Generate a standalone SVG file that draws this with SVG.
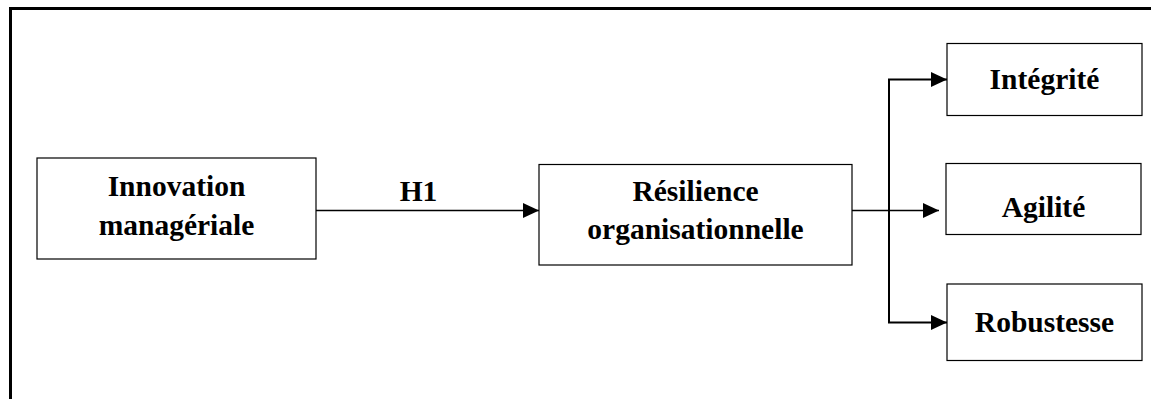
<svg xmlns="http://www.w3.org/2000/svg" width="1151" height="399" viewBox="0 0 1151 399">
<style>
.box{fill:#fff;stroke:#000;stroke-width:1.2}
.t{font-family:"Liberation Serif","Times New Roman",serif;font-weight:bold;font-size:29.5px;fill:#000;text-anchor:middle}
.c{fill:none;stroke:#000;stroke-width:1.3}
.c2{fill:none;stroke:#000;stroke-width:2}
</style>
<defs>
<marker id="ah" markerUnits="userSpaceOnUse" markerWidth="16" markerHeight="16" refX="16" refY="7.5" orient="auto">
<path d="M0,0 L16,7.5 L0,15 Z" fill="#000"/>
</marker>
</defs>
<rect width="1151" height="399" fill="#fff"/>
<path d="M10.5,399 V8.5 H1151" fill="none" stroke="#000" stroke-width="3"/>
<g id="connectors">
<line class="c" x1="316" y1="210.5" x2="539" y2="210.5" marker-end="url(#ah)"/>
<line class="c" x1="852" y1="210.5" x2="939" y2="210.5" marker-end="url(#ah)"/>
<path class="c2" d="M889,79.5 V322.5"/>
<line class="c2" x1="888" y1="79.5" x2="947" y2="79.5" marker-end="url(#ah)"/>
<line class="c2" x1="888" y1="322.5" x2="947" y2="322.5" marker-end="url(#ah)"/>
<text class="t" x="418.5" y="200.5" font-size="27">H1</text>
</g>
<g id="innovation">
<rect class="box" x="37" y="158" width="279" height="101"/>
<text class="t" x="176.5" y="196">Innovation</text>
<text class="t" x="176.5" y="235">managériale</text>
</g>
<g id="resilience">
<rect class="box" x="539" y="164.5" width="313" height="100.5"/>
<text class="t" x="695.5" y="201">Résilience</text>
<text class="t" x="695.5" y="239">organisationnelle</text>
</g>
<g id="integrite">
<rect class="box" x="947" y="43.5" width="195" height="72"/>
<text class="t" x="1044.5" y="89">Intégrité</text>
</g>
<g id="agilite">
<rect class="box" x="946" y="163.5" width="195" height="71"/>
<text class="t" x="1043.5" y="217">Agilité</text>
</g>
<g id="robustesse">
<rect class="box" x="947" y="284" width="195" height="76.5"/>
<text class="t" x="1044.5" y="332">Robustesse</text>
</g>
</svg>
